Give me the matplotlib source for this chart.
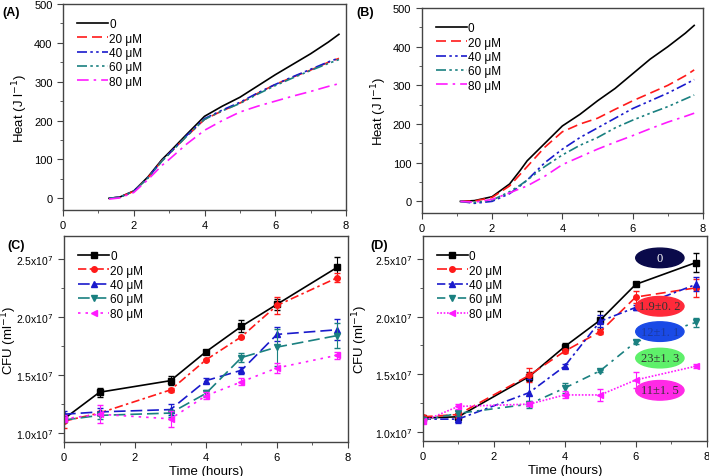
import numpy as np
import matplotlib.pyplot as plt
from matplotlib.patches import Ellipse
from matplotlib.ticker import MultipleLocator, FuncFormatter

plt.rcParams['font.family'] = ['Liberation Sans', 'DejaVu Sans']
plt.rcParams['font.size'] = 8

labels = ['0', '20 μM', '40 μM', '60 μM', '80 μM']
colors = ['black', '#ff1a1a', '#1a1acc', '#1a8080', '#ff1aff']

# Heat curves (panel A)
tA = [1.3, 1.6, 2.0, 2.4, 2.8, 3.0, 3.5, 4.0, 4.5, 5.0, 5.5, 6.0, 6.5, 7.0, 7.5, 7.8]
heatA = [
    [0, 3, 19, 55, 100, 118, 165, 211, 237, 260, 289, 318, 345, 372, 402, 422],
    [0, 3, 18, 53, 97, 115, 160, 203, 225, 245, 270, 293, 312, 330, 350, 360],
    [0, 3, 18, 53, 97, 115, 162, 205, 227, 247, 271, 293, 313, 332, 351, 361],
    [0, 3, 18, 52, 96, 114, 160, 203, 225, 244, 268, 290, 310, 329, 347, 357],
    [-2, 1, 15, 48, 85, 100, 140, 175, 200, 222, 237, 250, 263, 275, 288, 295],
]
# Heat curves (panel B)
tB = [1.1, 1.5, 2.0, 2.5, 2.8, 3.0, 3.5, 4.0, 4.5, 5.0, 5.5, 6.0, 6.5, 7.0, 7.5, 7.75]
heatB = [
    [0, 2, 12, 45, 80, 105, 150, 195, 225, 260, 292, 330, 368, 400, 435, 455],
    [0, 1, 10, 40, 70, 90, 140, 180, 200, 215, 238, 260, 280, 300, 325, 340],
    [0, -5, 0, 20, 40, 55, 100, 135, 165, 190, 215, 240, 260, 280, 303, 315],
    [0, -3, 3, 25, 42, 55, 90, 120, 145, 165, 190, 210, 228, 245, 265, 275],
    [0, -2, 5, 22, 33, 40, 65, 95, 115, 135, 153, 170, 188, 205, 220, 228],
]

# CFU (panel C)
tC = [0, 1, 3, 4, 5, 6, 7.7]
cfuC = [
    [1.12, 1.35, 1.45, 1.70, 1.92, 2.11, 2.43],
    [1.10, 1.17, 1.37, 1.63, 1.83, 2.10, 2.34],
    [1.16, 1.18, 1.20, 1.45, 1.54, 1.85, 1.89],
    [1.11, 1.15, 1.17, 1.34, 1.65, 1.74, 1.84],
    [1.12, 1.16, 1.12, 1.32, 1.44, 1.56, 1.67],
]
errC = [
    [0.03, 0.04, 0.04, 0.01, 0.05, 0.05, 0.09],
    [0.06, 0.02, 0.02, 0.01, 0.01, 0.07, 0.04],
    [0.03, 0.03, 0.05, 0.02, 0.03, 0.06, 0.09],
    [0.02, 0.03, 0.03, 0.03, 0.04, 0.16, 0.11],
    [0.03, 0.08, 0.07, 0.03, 0.03, 0.04, 0.03],
]
# CFU (panel D)
cfuD = [
    [1.12, 1.13, 1.48, 1.74, 1.97, 2.28, 2.47],
    [1.13, 1.15, 1.49, 1.70, 1.87, 2.17, 2.25],
    [1.11, 1.11, 1.34, 1.57, 1.96, 2.08, 2.28],
    [1.10, 1.16, 1.24, 1.38, 1.53, 1.78, 1.95],
    [1.09, 1.22, 1.24, 1.32, 1.32, 1.45, 1.57],
]
errD = [
    [0.02, 0.03, 0.04, 0.03, 0.08, 0.01, 0.08],
    [0.02, 0.03, 0.06, 0.02, 0.02, 0.05, 0.08],
    [0.02, 0.03, 0.12, 0.02, 0.05, 0.02, 0.06],
    [0.02, 0.02, 0.03, 0.04, 0.01, 0.02, 0.04],
    [0.02, 0.02, 0.02, 0.03, 0.05, 0.07, 0.02],
]

ell_text = ['0', '1.9±0. 2', '12±1. 1', '23±1. 3', '11±1. 5']
ell_y = [2.51, 2.09, 1.87, 1.64, 1.36]
ell_color = ['#0a0a4a', '#ff2a3a', '#1a4ae6', '#5ef06a', '#ff2ae6']
ell_tcolor = ['white', '#333333', '#1a3aa0', '#333333', '#333333']

heat_ls = ['-', (0, (6, 3)), (0, (6, 2, 1.5, 2, 1.5, 2)), (0, (6, 2, 1.5, 2, 1.5, 2, 1.5, 2)), (0, (7, 3, 1.5, 3))]
c_ls = ['-', (0, (5, 2, 1.5, 2)), (0, (7, 3)), (0, (7, 3)), (0, (1.5, 3))]
d_ls = ['-', (0, (6, 3)), (0, (5, 2, 1.5, 2)), (0, (5, 3, 1.5, 3)), (0, (1, 1))]
markers = ['s', 'o', '^', 'v', '<']

fig = plt.figure(figsize=(7.09, 4.77), dpi=100)
axA = fig.add_axes([0.0889, 0.5577, 0.3991, 0.4318])
axB = fig.add_axes([0.5948, 0.5514, 0.3967, 0.4297])
axC = fig.add_axes([0.0903, 0.0713, 0.4005, 0.4318])
axD = fig.add_axes([0.5962, 0.0734, 0.4006, 0.4297])

def style(ax):
    for s in ax.spines.values():
        s.set_color('#444444')
        s.set_linewidth(1.0)
    ax.tick_params(which='both', direction='out', top=False, right=False, color='#444444')
    ax.tick_params(which='major', length=4)
    ax.tick_params(which='minor', length=2.5)
    ax.set_xlim(0, 8)
    ax.xaxis.set_major_locator(MultipleLocator(2))
    ax.xaxis.set_minor_locator(MultipleLocator(1))

for ax, t, data in [(axA, tA, heatA), (axB, tB, heatB)]:
    for i in range(5):
        ax.plot(t, data[i], color=colors[i], ls=heat_ls[i], lw=1.2, label=labels[i])
    style(ax)
    ax.set_ylim(-30, 500)
    ax.yaxis.set_major_locator(MultipleLocator(100))
    ax.yaxis.set_minor_locator(MultipleLocator(50))
    ax.set_ylabel('Heat (J l$^{-1}$)', fontsize=9.5, labelpad=3)
    ax.legend(loc='upper left', frameon=False, handlelength=2.6, labelspacing=0.2,
              handletextpad=0.1, borderaxespad=0.8, fontsize=8.5)

fmt = FuncFormatter(lambda v, p: '%.1fx10$^7$' % (v / 1e7))
for ax, data, err, ls, lx in [(axC, cfuC, errC, c_ls, -0.16), (axD, cfuD, errD, d_ls, -0.185)]:
    for i in range(5):
        y = np.array(data[i]) * 1e7
        ax.errorbar(tC, y, yerr=np.array(err[i]) * 1e7, fmt='none',
                    ecolor=colors[i], capsize=2, elinewidth=0.8)
        ax.plot(tC, y, color=colors[i], ls=ls[i], lw=1.2, marker=markers[i], ms=4,
                label=labels[i])
    style(ax)
    ax.set_ylim(0.92e7, 2.7e7)
    ax.yaxis.set_major_locator(MultipleLocator(0.5e7))
    ax.yaxis.set_minor_locator(MultipleLocator(0.25e7))
    ax.yaxis.set_major_formatter(fmt)
    ax.tick_params(axis='y', labelsize=7.5)
    ax.set_ylabel('CFU (ml$^{-1}$)', fontsize=9.5)
    ax.yaxis.set_label_coords(lx, 0.5)
    ax.set_xlabel('Time (hours)', fontsize=9.5, labelpad=2)
    ax.legend(loc='upper left', frameon=False, handlelength=2.6, labelspacing=0.2,
              handletextpad=0.1, borderaxespad=0.8, fontsize=8.5)

for i in range(5):
    axD.add_patch(Ellipse((6.68, ell_y[i] * 1e7), 1.36, 0.17e7, color=ell_color[i], zorder=10))
    axD.text(6.68, ell_y[i] * 1e7, ell_text[i], ha='center', va='center', color=ell_tcolor[i],
             fontsize=9, family=['Liberation Serif', 'DejaVu Serif'], zorder=11)

for x, y, s in [(0.003, 0.985, '(A)'), (0.503, 0.985, '(B)'), (0.01, 0.497, '(C)'), (0.523, 0.497, '(D)')]:
    fig.text(x, y, s, fontsize=9, fontweight='bold', va='top')

fig.savefig('out.png', dpi=100)
